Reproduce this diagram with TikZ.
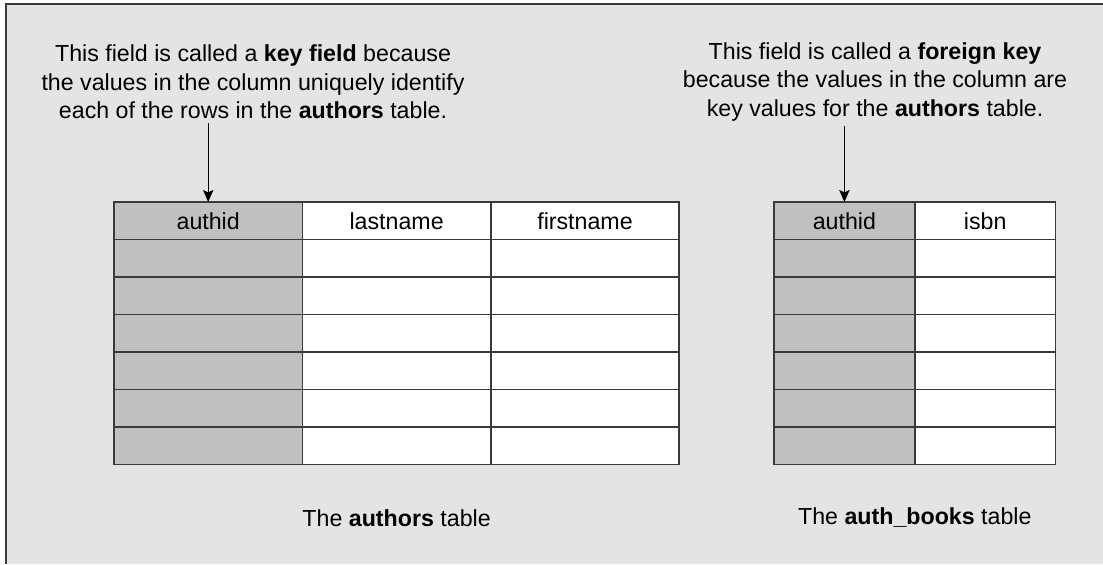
\documentclass[tikz,border=0pt]{standalone}
\usepackage{fontspec}
\setmainfont{Liberation Sans}
\usepackage{tikz}
\usetikzlibrary{arrows.meta, positioning}
\definecolor{panel}{HTML}{E4E4E4}
\definecolor{keygray}{HTML}{C0C0C0}
\definecolor{gridline}{HTML}{3A3A3A}
\definecolor{framegray}{HTML}{3A3A3A}

\begin{document}
\begin{tikzpicture}[
    every node/.style={font=\fontsize{16.5}{20.2}\selectfont},
    cell/.style={rectangle, draw=gridline, fill=white, line width=1.2pt, outer sep=0pt, inner sep=0pt, minimum width=4.71cm, minimum height=0.9375cm},
    keycell/.style={cell, fill=keygray},
    smallcell/.style={cell, minimum width=3.52cm},
    smallkey/.style={smallcell, fill=keygray},
    note/.style={align=center, inner sep=3pt},
    pointer/.style={-{Stealth[length=3mm, width=2.6mm, inset=0.6mm]}, line width=0.8pt, color=black}
]
\useasboundingbox (0,0) rectangle (27.575,14.1);

% Panel
\fill[panel] (0.15,0) rectangle (27.575,14.0);
\draw[framegray, line width=1.5pt] (0.15,0) -- (0.15,14.0) -- (27.575,14.0);

% authors table
\node[keycell, anchor=north west] (a-0-1) at (2.85,9.05) {authid};
\node[cell, right=0pt of a-0-1] (a-0-2) {lastname};
\node[cell, right=0pt of a-0-2] (a-0-3) {firstname};
\foreach \r [count=\n] in {0,...,5} {
  \node[keycell, below=0pt of a-\r-1] (a-\n-1) {};
  \node[cell, below=0pt of a-\r-2] (a-\n-2) {};
  \node[cell, below=0pt of a-\r-3] (a-\n-3) {};
}

% auth_books table
\node[smallkey, anchor=north west] (b-0-1) at (19.35,9.05) {authid};
\node[smallcell, right=0pt of b-0-1] (b-0-2) {isbn};
\foreach \r [count=\n] in {0,...,5} {
  \node[smallkey, below=0pt of b-\r-1] (b-\n-1) {};
  \node[smallcell, below=0pt of b-\r-2] (b-\n-2) {};
}

% Notes
\node[note] (keynote) at (6.325,12.05) {This field is called a \textbf{key field} because\\the values in the column uniquely identify\\each of the rows in the \textbf{authors} table.};
\node[note] (fknote) at (21.875,12.05) {This field is called a \textbf{foreign key}\\because the values in the column are\\key values for the \textbf{authors} table.};

\draw[pointer] (a-0-1.north |- keynote.south) -- (a-0-1.north);
\draw[pointer] (b-0-1.north |- fknote.south) -- (b-0-1.north);

% Captions
\node (acap) at (a-6-2.south |- 0,1.15) {The \textbf{authors} table};
\node (bcap) at (b-6-1.south east |- 0,1.15) {The \textbf{auth\_books} table};
\end{tikzpicture}
\end{document}
